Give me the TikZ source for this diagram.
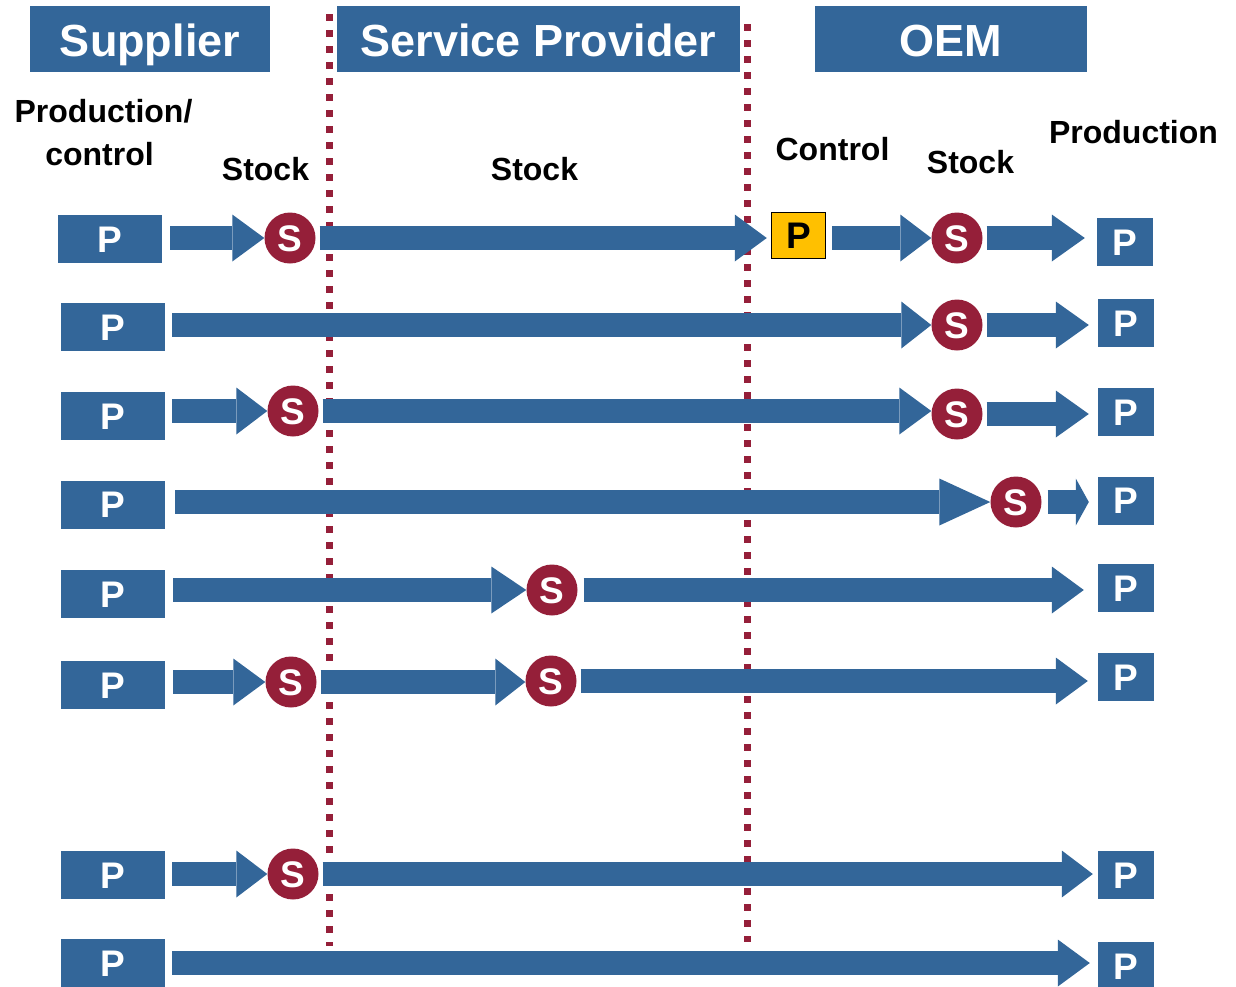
\documentclass[tikz,border=0pt]{standalone}
\usepackage{fontspec}
\setmainfont{Liberation Sans}
\usetikzlibrary{arrows.meta,calc}
\definecolor{pblue}{RGB}{51,102,153}
\definecolor{sred}{RGB}{149,31,57}
\definecolor{pyellow}{RGB}{255,192,0}
\begin{document}
\begin{tikzpicture}[x=1pt,y=-1pt,
  hdr/.style={fill=pblue,text=white,font=\fontsize{45}{54}\selectfont\bfseries,inner sep=0pt,text height=34pt,text depth=0pt,minimum height=66pt},
  lbl/.style={font=\fontsize{32}{38}\selectfont\bfseries,anchor=base,inner sep=0pt},
  pbox/.style={fill=pblue,text=white,font=\fontsize{37}{44}\selectfont\bfseries,inner sep=0pt,minimum width=104pt,minimum height=48pt,text height=26.5pt,text depth=0pt},
  pboxr/.style={pbox,minimum width=56pt},
  sdot/.style={circle,fill=sred,text=white,font=\fontsize{37}{44}\selectfont\bfseries,inner sep=0pt,minimum size=51pt,text height=26.5pt,text depth=0pt},
  pyel/.style={fill=pyellow,draw=black,line width=1.5pt,text=black,font=\fontsize{37}{44}\selectfont\bfseries,inner sep=0pt,minimum width=54pt,minimum height=46pt,text height=26.5pt,text depth=0pt},
  flow/.style={draw=pblue,line width=24pt,-{Triangle[length=#1,width=47pt,line width=0pt]},shorten <=7pt},
  flow/.default=32pt,
  fromS/.style={shorten <=4pt},
  divider/.style={draw=sred,line width=7pt,dash pattern=on 7pt off 9pt}
]
\useasboundingbox (0,0) rectangle (1236,986);

% dividers
\draw[divider] (329,14) -- (329,946);
\draw[divider] (747,24) -- (747,942);

% headers
\node[hdr,minimum width=240pt] (hsup) at (150,39) {Supplier};
\node[hdr,minimum width=403pt] (hsp) at (538.5,39) {Service Provider};
\node[hdr,minimum width=272pt] (hoem) at (951,39) {OEM};

% column labels
\node[lbl] (lprod) at (103.5,122) {Production/};
\node[lbl] (lctl) at (99.5,165) {control};
\node[lbl] (lstk1) at (265.5,180) {Stock};
\node[lbl] (lstk2) at (534.5,180) {Stock};
\node[lbl] (lcontrol) at (832.5,160) {Control};
\node[lbl] (lstk3) at (970.5,173) {Stock};
\node[lbl] (lprod2) at (1133.5,143) {Production};

% left P boxes
\node[pbox] (pL1) at (110,239) {P};
\node[pbox] (pL2) at (113,327) {P};
\node[pbox] (pL3) at (113,416) {P};
\node[pbox] (pL4) at (113,504.5) {P};
\node[pbox] (pL5) at (113,594) {P};
\node[pbox] (pL6) at (113,685) {P};
\node[pbox] (pL7) at (113,875) {P};
\node[pbox] (pL8) at (113,963) {P};

% right P boxes
\node[pboxr] (pR1) at (1125,242) {P};
\node[pboxr] (pR2) at (1126,323) {P};
\node[pboxr] (pR3) at (1126,412) {P};
\node[pboxr] (pR4) at (1126,500.5) {P};
\node[pboxr] (pR5) at (1126,588) {P};
\node[pboxr] (pR6) at (1126,677) {P};
\node[pboxr] (pR7) at (1126,875) {P};
\node[pboxr] (pR8) at (1126,966) {P};

% yellow control
\node[pyel] (pY) at (798.5,235.5) {P};

% stock circles
\node[sdot] (s1a) at (290,238) {S};
\node[sdot] (s1b) at (957,238) {S};
\node[sdot] (s2) at (957,325) {S};
\node[sdot] (s3a) at (293,411) {S};
\node[sdot] (s3b) at (957,414) {S};
\node[sdot] (s4) at (1016,502) {S};
\node[sdot] (s5) at (552,590) {S};
\node[sdot] (s6a) at (291,682) {S};
\node[sdot] (s6b) at (551,681) {S};
\node[sdot] (s7) at (293,874) {S};

% flows row 1
\draw[flow,shorten <=8pt] (pL1.east |- s1a) -- (s1a.west);
\draw[flow,fromS,shorten >=4pt] (s1a.east) -- (pY.west |- s1a.east);
\draw[flow=31pt,shorten <=6pt] (pY.east |- s1b) -- (s1b.west);
\draw[flow=33pt,fromS,shorten >=12pt] (s1b.east) -- (pR1.west |- s1b.east);
% row 2
\draw[flow=30pt] (pL2.east |- s2) -- (s2.west);
\draw[flow=33pt,fromS,shorten >=9pt] (s2.east) -- (pR2.west |- s2.east);
% row 3
\draw[flow=31pt] (pL3.east |- s3a) -- (s3a.west);
\draw[flow,fromS] (s3a.east) -- (s3b.west |- s3a.east);
\draw[flow=33pt,fromS,shorten >=9pt] (s3b.east) -- (pR3.west |- s3b.east);
% row 4
\draw[flow=51pt,shorten <=10pt] (pL4.east |- s4) -- (s4.west);
\draw[flow=13pt,shorten <=6pt,shorten >=9pt] (s4.east) -- (pR4.west |- s4.east);
% row 5
\draw[flow=35pt,shorten <=8pt] (pL5.east |- s5) -- (s5.west);
\draw[flow,shorten <=6pt,shorten >=14pt] (s5.east) -- (pR5.west |- s5.east);
% row 6
\draw[flow,shorten <=8pt] (pL6.east |- s6a) -- (s6a.west);
\draw[flow=30pt,fromS] (s6a.east) -- (s6b.west |- s6a.east);
\draw[flow,fromS,shorten >=10pt] (s6b.east) -- (pR6.west |- s6b.east);
% row 7
\draw[flow=31pt] (pL7.east |- s7) -- (s7.west);
\draw[flow=31pt,fromS,shorten >=5pt] (s7.east) -- (pR7.west |- s7.east);
% row 8
\draw[flow,shorten >=8pt] (pL8.east) -- (pR8.west |- pL8.east);
\end{tikzpicture}
\end{document}
